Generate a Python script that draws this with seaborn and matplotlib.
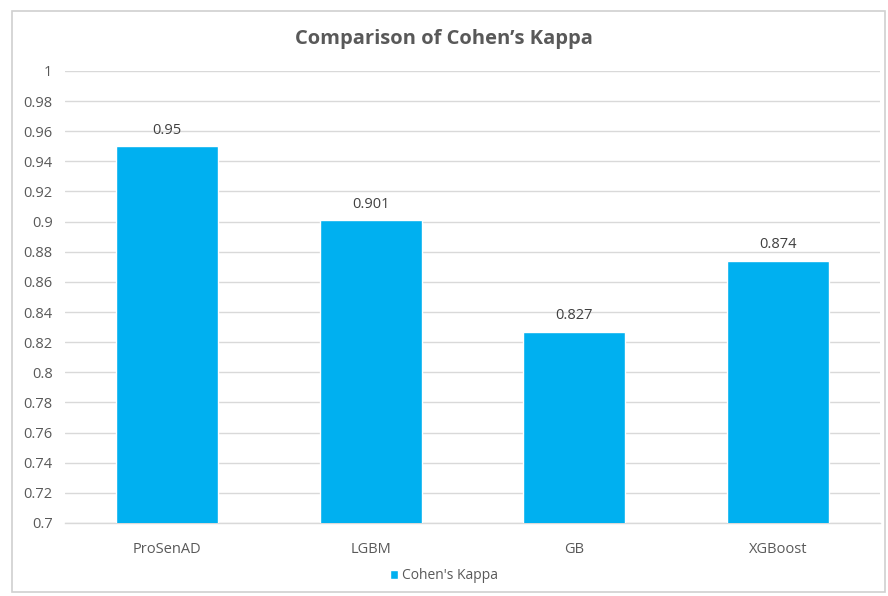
import matplotlib
matplotlib.use("Agg")
import matplotlib.pyplot as plt
import seaborn as sns
import pandas as pd
from matplotlib.patches import Rectangle

models = ["ProSenAD", "LGBM", "GB", "XGBoost"]
kappa = [0.95, 0.901, 0.827, 0.874]
yticks = [0.7, 0.72, 0.74, 0.76, 0.78, 0.8, 0.82, 0.84, 0.86, 0.88, 0.9, 0.92, 0.94, 0.96, 0.98, 1.0]
series_name = "Cohen's Kappa"
title = "Comparison of Cohen’s Kappa"

df = pd.DataFrame({"Model": models, "Kappa": kappa})

sns.set_theme(style="white")
plt.rcParams["font.family"] = ["Open Sans", "DejaVu Sans"]

bar_color = "#00B0F0"
text_gray = "#595959"
grid_gray = "#D9D9D9"

fig = plt.figure(figsize=(8.88, 5.96), dpi=100)
ax = fig.add_axes([0.0732, 0.1225, 0.9178, 0.7585])

sns.barplot(data=df, x="Model", y="Kappa", color=bar_color, width=0.5,
            saturation=1, label=series_name, ax=ax, zorder=3)
if ax.get_legend() is not None:
    ax.get_legend().remove()

ax.set_ylim(0.7, 1.0)
ax.set_yticks(yticks)
ax.set_yticklabels([f"{t:g}" for t in yticks])
ax.set_xlim(-0.5, len(models) - 0.5)
ax.set_xlabel("")
ax.set_ylabel("")
ax.grid(axis="y", color=grid_gray, linewidth=1, zorder=0)
for s in ["top", "right", "left"]:
    ax.spines[s].set_visible(False)
ax.spines["bottom"].set_color(grid_gray)
ax.spines["bottom"].set_linewidth(1)
ax.tick_params(axis="both", length=0, colors=text_gray, labelsize=10.5)
ax.tick_params(axis="x", pad=14)
ax.tick_params(axis="y", pad=9)

for cont in ax.containers:
    ax.bar_label(cont, labels=[f"{v:g}" for v in kappa], padding=6,
                 color="#404040", fontsize=10.5)

fig.text(0.5, 0.935, title, ha="center", va="center", fontsize=14.5,
         fontweight="bold", color=text_gray)

handles, labels = ax.get_legend_handles_labels()
leg = fig.legend(handles, labels, loc="center", bbox_to_anchor=(0.5, 0.034),
                 frameon=False, fontsize=10, handlelength=0.6,
                 handleheight=0.6, handletextpad=0.3)
for t in leg.get_texts():
    t.set_color(text_gray)

fig.patches.append(Rectangle((12 / 888, 4 / 596), 873 / 888, 581 / 596,
                             transform=fig.transFigure, fill=False,
                             edgecolor="#D0D0D0", linewidth=1.2))

fig.savefig("out.png", dpi=100)
